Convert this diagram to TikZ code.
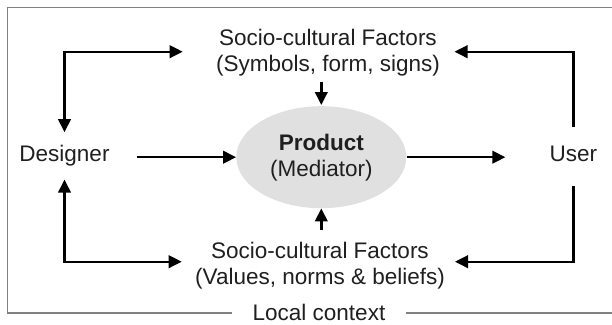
\documentclass[tikz,border=0pt]{standalone}
\usepackage{fontspec}
\setmainfont{Liberation Sans}
\usetikzlibrary{arrows.meta,shapes.geometric}
\begin{document}
\begin{tikzpicture}[x=1pt,y=-1pt,
  lbl/.style={font=\fontsize{22.5}{27}\selectfont, inner sep=0pt, text=black!88},
  tip/.tip={Triangle[length=13pt,width=12.5pt]},
  arr/.style={line width=2.4pt, -tip},
  darr/.style={line width=2.4pt, tip-tip},
  frameline/.style={draw=black!50, line width=1.5pt}]
\useasboundingbox (0,0) rectangle (612,324);
% frame
\draw[frameline] (614,7.5) -- (7.3,7.5) -- (7.3,313) -- (614,313);
\node[lbl, anchor=base, fill=white, inner xsep=20.7pt] (loc) at (319,320) {Local context};
% texts
\node[lbl, anchor=base] (t1) at (328,45) {Socio-cultural Factors};
\node[lbl, anchor=base] (t2) at (328,71.5) {(Symbols, form, signs)};
\node[lbl, anchor=base] (b1) at (320,258) {Socio-cultural Factors};
\node[lbl, anchor=base] (b2) at (320,284.5) {(Values, norms \& beliefs)};
\node[lbl, anchor=base] (des) at (64.5,161.7) {Designer};
\node[lbl, anchor=base] (user) at (573.3,161.7) {User};
\node[ellipse, fill=black!12, inner sep=0pt, minimum width=170pt, minimum height=102pt,
      align=center, font=\fontsize{22.5}{26}\selectfont, text=black!88] (prod) at (321.3,157.2)
      {\textbf{Product}\\(Mediator)};
% corner end points
\coordinate (tl) at (182.7,51.7);
\coordinate (tr) at (454.5,51.7);
\coordinate (bl) at (181.7,261.7);
\coordinate (br) at (455,261.7);
% connectors
\draw[arr, shorten >=1pt] ([yshift=-5.5pt]t2.south -| prod.north) -- (prod.north);
\draw[arr] ([yshift=11.5pt]b1.north -| prod.south) -- (prod.south);
\draw[arr, shorten <=27.5pt] (des.east |- prod.west) -- (prod.west);
\draw[arr, shorten >=44pt] (prod.east) -- (prod.east -| user.west);
\draw[darr, shorten <=13pt] (des.north) |- (tl);
\draw[darr, shorten <=13pt] (des.south) |- (bl);
\draw[arr, shorten <=19pt] (user.north) |- (tr);
\draw[arr, shorten <=24.3pt] (user.south) |- (br);
\end{tikzpicture}
\end{document}
